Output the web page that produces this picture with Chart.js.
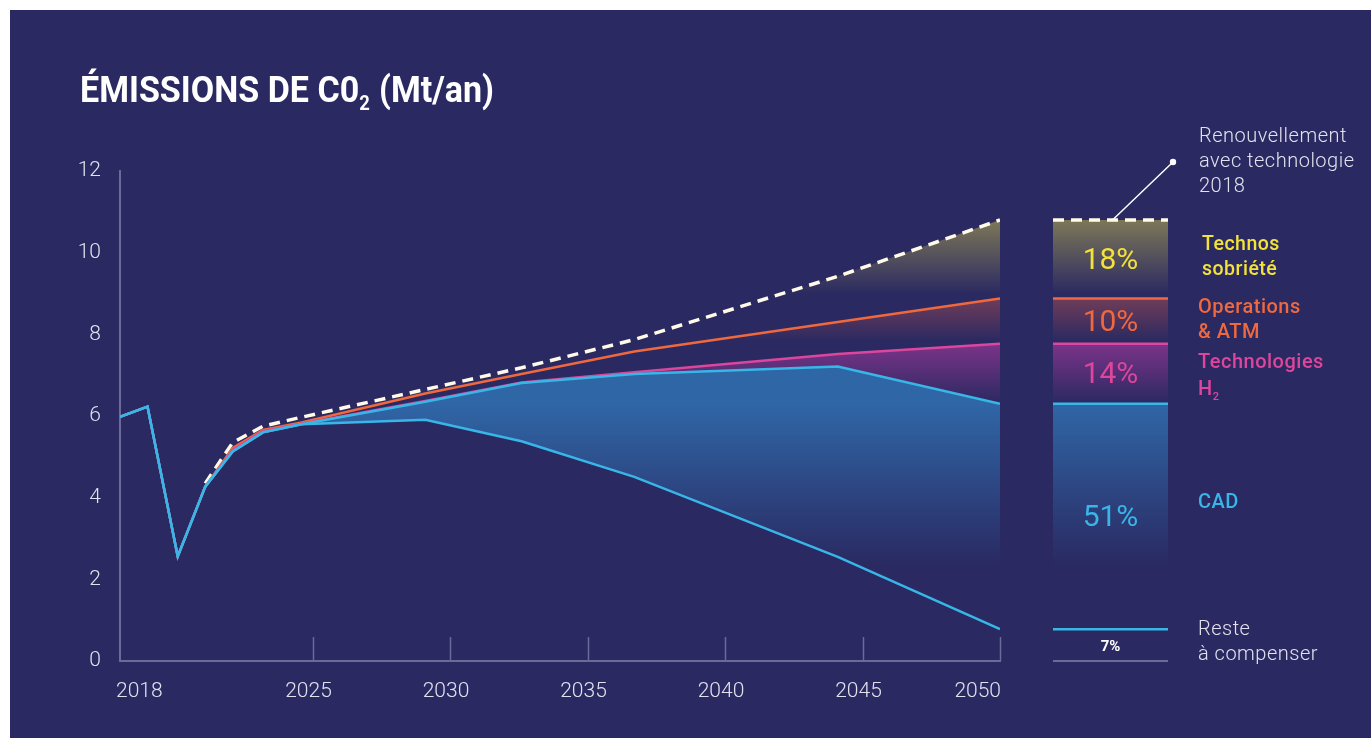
<!DOCTYPE html>
<html lang="fr">
<head>
<meta charset="utf-8">
<title>Émissions de CO2 (Mt/an)</title>
<script src="https://cdn.jsdelivr.net/npm/chart.js@4.4.1/dist/chart.umd.min.js"></script>
<style>
  html, body { margin: 0; padding: 0; background: #ffffff; }
  #wrap { position: absolute; left: 0; top: 0; width: 1371px; height: 738px; }
</style>
</head>
<body>
<div id="wrap"><canvas id="emissions" width="1371" height="738"></canvas></div>
<script>
// années des points (axe linéaire)
const years = [2018, 2019, 2020.1, 2021.1, 2022.1, 2023.2, 2024.6, 2029.1, 2032.6, 2036.7, 2044.1, 2050];

// Mt de CO2 par an, par scénario (du plus haut au plus bas)
const renouvellement = [null, null, null, 4.35, 5.35, 5.75, 5.97, 6.65, 7.18, 7.87, 9.42, 10.8];
const operations     = [5.98, 6.23, 2.56, 4.27, 5.22, 5.66, 5.84, 6.55, 7.03, 7.58, 8.30, 8.88];
const hydrogene      = [5.98, 6.23, 2.56, 4.27, 5.17, 5.63, 5.81, 6.37, 6.82, 7.07, 7.52, 7.77];
const cad            = [5.98, 6.23, 2.56, 4.27, 5.13, 5.60, 5.80, 6.35, 6.81, 7.03, 7.21, 6.30];
const reste          = [5.98, 6.23, 2.56, 4.27, 5.13, 5.60, 5.80, 5.91, 5.38, 4.51, 2.55, 0.78];

const xTicks = [2018, 2025, 2030, 2035, 2040, 2045, 2050];
const yTicks = [0, 2, 4, 6, 8, 10, 12];

const BG = '#2a2961';
const AXIS = '#6b6b98';
const TXT = '#e2e2ee';
const YELLOW = '#f2e23a';
const ORANGE = '#f0683e';
const PINK = '#dc469c';
const BLUE = '#38b6e8';
const DASH = '#fffbe8';

const last = arr => arr[arr.length - 1];
const pts = vals => vals.map((v, i) => ({ x: years[i], y: v }));

// dégradé vertical en coordonnées canvas, partagé par les aires et la barre de droite
const gradCache = {};
function bandGradient(chart, key, top, bottom, rgb, alpha, fadeAt) {
  const area = chart.chartArea;
  if (!area) return 'transparent';
  const y = chart.scales.y;
  const y0 = y.getPixelForValue(top);
  const y1 = y.getPixelForValue(bottom);
  const id = key + ':' + y0 + ':' + y1;
  if (gradCache[key] && gradCache[key].id === id) return gradCache[key].g;
  const g = chart.ctx.createLinearGradient(0, y0, 0, y1);
  g.addColorStop(0, `rgba(${rgb},${alpha})`);
  g.addColorStop(fadeAt, `rgba(${rgb},0)`);
  g.addColorStop(1, `rgba(${rgb},0)`);
  gradCache[key] = { id, g };
  return g;
}

const bands = {
  sobriete:   c => bandGradient(c, 'sobriete', last(renouvellement), last(operations), '190,180,80', 0.56, 0.95),
  operations: c => bandGradient(c, 'operations', last(operations), last(hydrogene), '180,80,80', 0.5, 0.95),
  hydrogene:  c => bandGradient(c, 'hydrogene', last(hydrogene), last(cad), '190,60,170', 0.55, 1),
  cad:        c => bandGradient(c, 'cad', last(cad), last(reste), '50,128,196', 0.7, 0.72),
};

function lineSet(label, vals, color, fill, band, extra) {
  return Object.assign({
    label,
    data: pts(vals),
    borderColor: color,
    borderWidth: 2.5,
    pointRadius: 0,
    tension: 0,
    fill,
    backgroundColor: band ? ctx => band(ctx.chart) : 'transparent',
  }, extra || {});
}

const datasets = [
  lineSet('Reste à compenser', reste, BLUE, false, null),
  lineSet('CAD', cad, BLUE, '-1', bands.cad),
  lineSet('Technologies H2', hydrogene, PINK, '-1', bands.hydrogene),
  lineSet('Operations & ATM', operations, ORANGE, '-1', bands.operations),
  lineSet('Renouvellement avec technologie 2018', renouvellement, DASH, '-1', bands.sobriete,
    { borderWidth: 3.5, borderDash: [11, 7], spanGaps: false }),
];

function subText(ctx, parts, x, y) {
  // morceaux de texte à la suite ; dy décale un indice vers le bas
  let cx = x;
  parts.forEach(p => {
    ctx.font = p.font;
    ctx.fillText(p.text, cx, y + (p.dy || 0));
    cx += ctx.measureText(p.text).width + (p.after || 0);
  });
}

const decor = {
  id: 'decor',
  beforeDraw(chart) {
    const { ctx } = chart;
    ctx.save();
    ctx.fillStyle = BG;
    ctx.fillRect(10, 10, chart.width - 10, chart.height - 10);
    ctx.restore();
  },
  afterDraw(chart) {
    const { ctx } = chart;
    const xs = chart.scales.x;
    const ys = chart.scales.y;
    const y0 = ys.getPixelForValue(0);
    ctx.save();

    // titre
    ctx.fillStyle = '#ffffff';
    ctx.textBaseline = 'alphabetic';
    ctx.textAlign = 'left';
    ctx.translate(80, 102);
    ctx.scale(0.92, 1);
    subText(ctx, [
      { text: 'ÉMISSIONS DE C0', font: 'bold 37px Roboto' },
      { text: '2', font: 'bold 20px Roboto', dy: 8, after: 10 },
      { text: '(Mt/an)', font: 'bold 37px Roboto' },
    ], 0, 0);
    ctx.setTransform(1, 0, 0, 1, 0, 0);

    // graduations de l'axe des x, tracées vers le haut
    ctx.strokeStyle = AXIS;
    ctx.lineWidth = 1.5;
    xTicks.slice(1).forEach(v => {
      const px = Math.round(xs.getPixelForValue(v)) + 0.5;
      ctx.beginPath();
      ctx.moveTo(px, y0);
      ctx.lineTo(px, y0 - 24);
      ctx.stroke();
    });

    // libellés de l'axe des x
    ctx.fillStyle = TXT;
    ctx.font = '300 21px Roboto';
    ctx.textBaseline = 'middle';
    xTicks.forEach((v, i) => {
      const px = xs.getPixelForValue(v);
      if (i === 0) { ctx.textAlign = 'left'; ctx.fillText(String(v), px - 4, 692); }
      else if (i === xTicks.length - 1) { ctx.textAlign = 'right'; ctx.fillText(String(v), px + 1, 692); }
      else { ctx.textAlign = 'center'; ctx.fillText(String(v), px - 4, 692); }
    });

    // barre récapitulative 2050
    const bx = 1053, bw = 115, cx = bx + bw / 2;
    const vTop = last(renouvellement), vOps = last(operations), vH2 = last(hydrogene),
          vCad = last(cad), vReste = last(reste);
    const py = v => ys.getPixelForValue(v);
    const fills = [
      [vTop, vOps, bands.sobriete(chart)],
      [vOps, vH2, bands.operations(chart)],
      [vH2, vCad, bands.hydrogene(chart)],
      [vCad, vReste, bands.cad(chart)],
    ];
    fills.forEach(([a, b, g]) => {
      ctx.fillStyle = g;
      ctx.fillRect(bx, py(a), bw, py(b) - py(a));
    });
    const rule = (v, color, w, dash) => {
      ctx.strokeStyle = color;
      ctx.lineWidth = w;
      ctx.setLineDash(dash || []);
      ctx.beginPath();
      ctx.moveTo(bx, py(v));
      ctx.lineTo(bx + bw, py(v));
      ctx.stroke();
    };
    rule(vOps, ORANGE, 2.5);
    rule(vH2, PINK, 2.5);
    rule(vCad, BLUE, 2.5);
    rule(vReste, BLUE, 2.5);
    rule(0, AXIS, 2);
    rule(vTop, DASH, 3.5, [11, 7]);
    ctx.setLineDash([]);

    // parts de chaque levier dans l'écart 2050
    const pct = (a, b) => Math.round((a - b) / vTop * 100) + '%';
    ctx.textAlign = 'center';
    ctx.textBaseline = 'middle';
    ctx.font = '400 30px Roboto';
    [[vTop, vOps, YELLOW], [vOps, vH2, ORANGE], [vH2, vCad, PINK], [vCad, vReste, BLUE]]
      .forEach(([a, b, color]) => {
        ctx.fillStyle = color;
        ctx.fillText(pct(a, b), cx, (py(a) + py(b)) / 2 + 2);
      });
    ctx.fillStyle = '#ffffff';
    ctx.font = 'bold 15px Roboto';
    ctx.fillText(pct(vReste, 0), cx, (py(vReste) + py(0)) / 2 + 2);

    // repère vers la courbe de renouvellement
    ctx.strokeStyle = '#ffffff';
    ctx.lineWidth = 1.5;
    ctx.beginPath();
    ctx.moveTo(cx + 2, py(vTop));
    ctx.lineTo(1173, 162);
    ctx.stroke();
    ctx.fillStyle = '#ffffff';
    ctx.beginPath();
    ctx.arc(1173, 162, 3.2, 0, Math.PI * 2);
    ctx.fill();

    // légendes à droite
    ctx.textAlign = 'left';
    ctx.textBaseline = 'middle';
    ctx.letterSpacing = '0.5px';
    const block = (lines, x, y, color, font) => {
      ctx.fillStyle = color;
      ctx.font = font;
      lines.forEach((t, i) => ctx.fillText(t, x, y + i * 25));
    };
    block(['Renouvellement', 'avec technologie', '2018'], 1199, 137, TXT, '300 20px Roboto');
    block(['Technos', 'sobriété'], 1202, 245, YELLOW, '500 19.5px Roboto');
    block(['Operations', '& ATM'], 1198, 308, ORANGE, '500 20px Roboto');
    block(['Technologies'], 1198, 363, PINK, '500 20px Roboto');
    ctx.fillStyle = PINK;
    ctx.textBaseline = 'alphabetic';
    subText(ctx, [
      { text: 'H', font: '500 20px Roboto' },
      { text: '2', font: '500 11px Roboto', dy: 5 },
    ], 1198, 395);
    ctx.textBaseline = 'middle';
    block(['CAD'], 1198, 503, BLUE, '500 20px Roboto');
    block(['Reste', 'à compenser'], 1198, 630, TXT, '300 20px Roboto');

    ctx.restore();
  }
};

new Chart(document.getElementById('emissions'), {
  type: 'line',
  data: { datasets },
  options: {
    responsive: false,
    devicePixelRatio: 1,
    animation: false,
    layout: { padding: { left: 60, right: 371, top: 171, bottom: 0 } },
    plugins: {
      legend: { display: false },
      title: { display: false },
      tooltip: { enabled: false },
      filler: { drawTime: 'beforeDatasetsDraw' },
    },
    scales: {
      x: {
        type: 'linear',
        min: 2018,
        max: 2050,
        afterBuildTicks: s => { s.ticks = xTicks.map(v => ({ value: v })); },
        afterFit: s => { s.height = 77; },
        ticks: { display: false },
        grid: { display: false, drawTicks: false },
        border: { display: true, color: AXIS, width: 2 },
      },
      y: {
        min: 0,
        max: 12,
        afterBuildTicks: s => { s.ticks = yTicks.map(v => ({ value: v })); },
        afterFit: s => { s.width = 60; },
        ticks: { color: TXT, font: { family: 'Roboto', size: 21, weight: '300' }, padding: 19 },
        grid: { display: false, drawTicks: false, tickLength: 0 },
        border: { display: true, color: AXIS, width: 2 },
      },
    },
  },
  plugins: [decor],
});
</script>
</body>
</html>
